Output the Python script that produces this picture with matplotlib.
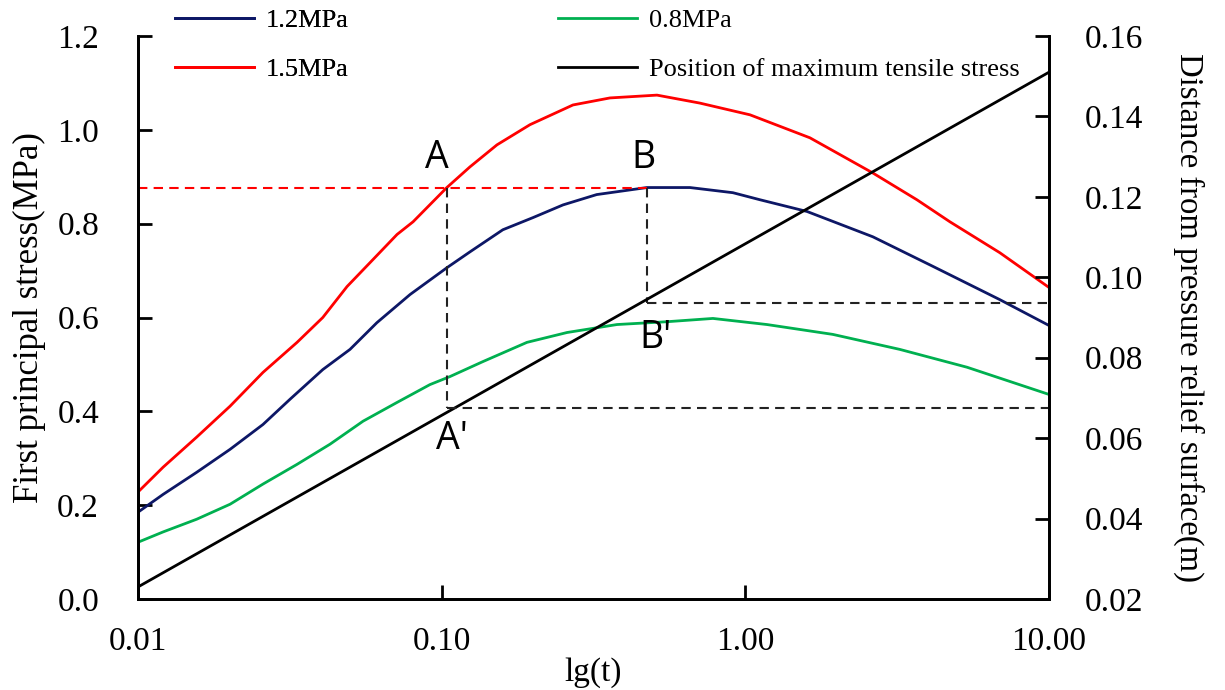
import matplotlib
matplotlib.use("Agg")
import matplotlib.pyplot as plt
from matplotlib.ticker import FixedLocator, FixedFormatter, NullLocator

# ---------------- data ----------------
t_15 = [0.0100, 0.0121, 0.0156, 0.0201, 0.0258, 0.0334, 0.0406, 0.0488, 0.0581, 0.0713,
        0.0805, 0.1040, 0.1239, 0.1521, 0.1954, 0.2706, 0.3583, 0.5117, 0.7082, 1.036,
        1.632, 2.630, 3.672, 4.717, 6.890, 10.0]
s_15 = [0.228, 0.281, 0.345, 0.411, 0.483, 0.547, 0.600, 0.666, 0.717, 0.777,
        0.804, 0.877, 0.921, 0.968, 1.011, 1.053, 1.068, 1.074, 1.057, 1.032,
        0.983, 0.908, 0.851, 0.804, 0.738, 0.664]

t_12 = [0.0100, 0.0121, 0.0156, 0.0201, 0.0258, 0.0317, 0.0406, 0.0499, 0.0612, 0.0787,
        0.1040, 0.1240, 0.1590, 0.2000, 0.2510, 0.3240, 0.4740, 0.6570, 0.9100, 1.117,
        1.596, 2.630, 4.147, 6.890, 10.0]
s_12 = [0.185, 0.223, 0.270, 0.319, 0.372, 0.426, 0.489, 0.532, 0.589, 0.649,
        0.706, 0.740, 0.787, 0.813, 0.840, 0.862, 0.877, 0.877, 0.866, 0.851,
        0.826, 0.772, 0.709, 0.638, 0.583]

t_08 = [0.0100, 0.0121, 0.0156, 0.0201, 0.0258, 0.0334, 0.0429, 0.0551, 0.0713, 0.0915,
        0.1064, 0.1367, 0.1909, 0.2587, 0.3778, 0.5517, 0.7821, 1.178, 1.941, 3.227,
        5.370, 10.0]
s_08 = [0.121, 0.143, 0.170, 0.202, 0.245, 0.287, 0.330, 0.379, 0.419, 0.457,
        0.474, 0.506, 0.547, 0.568, 0.585, 0.591, 0.598, 0.585, 0.564, 0.532,
        0.494, 0.436]

t_pos = [0.01, 10.0]
d_pos = [0.023, 0.151]

# annotation points
t_A, t_B = 0.104, 0.474
s_AB = 0.877                 # stress level of A and B
d_Ap, d_Bp = 0.0675, 0.0936  # distance of A' and B'

x_ticks = [0.01, 0.1, 1.0, 10.0]
x_ticklabels = ["0.01", "0.10", "1.00", "10.00"]
y_ticks = [0.0, 0.2, 0.4, 0.6, 0.8, 1.0, 1.2]
y2_ticks = [0.02, 0.04, 0.06, 0.08, 0.10, 0.12, 0.14, 0.16]

labels = ["1.2MPa", "1.5MPa", "0.8MPa", "Position of maximum tensile stress"]

# ---------------- style ----------------
serif = ["Liberation Serif", "DejaVu Serif"]
plt.rcParams["font.family"] = serif
c_navy = "#0d1766"
c_red = "#ff0000"
c_green = "#00b050"

fig = plt.figure(figsize=(12.25, 6.9), dpi=100)
ax = fig.add_axes([138/1225, 1-599/690, (1049-138)/1225, (599-36)/690])
ax2 = ax.twinx()

ax.set_xscale("log")
ax.set_xlim(0.01, 10)
ax.set_ylim(0, 1.2)
ax2.set_ylim(0.02, 0.16)

lw = 2.0
l12, = ax.plot(t_12, s_12, color=c_navy, lw=lw)
l15, = ax.plot(t_15, s_15, color=c_red, lw=lw)
l08, = ax.plot(t_08, s_08, color=c_green, lw=lw)
lpos, = ax2.plot(t_pos, d_pos, color="black", lw=lw)

def s_from_d(d):
    return (d - 0.02) / 0.14 * 1.2

dash = (0, (4.5, 3))
dlw = 1.5
ax.plot([0.01, t_B], [s_AB, s_AB], color=c_red, lw=dlw, linestyle=dash)
ax.plot([t_A, t_A], [s_AB, s_from_d(d_Ap)], color="#222222", lw=dlw, linestyle=dash)
ax.plot([t_B, t_B], [s_AB, s_from_d(d_Bp)], color="#222222", lw=dlw, linestyle=dash)
ax2.plot([t_A, 10], [d_Ap, d_Ap], color="#222222", lw=dlw, linestyle=dash)
ax2.plot([t_B, 10], [d_Bp, d_Bp], color="#222222", lw=dlw, linestyle=dash)

sans = ["Open Sans", "DejaVu Sans"]
afs = 27
ax.text(0.0965, 0.94, "A", ha="center", va="center", fontsize=afs, family=sans)
ax.text(0.463, 0.94, "B", ha="center", va="center", fontsize=afs, family=sans)
ax.text(0.108, 0.34, "A'", ha="center", va="center", fontsize=afs, family=sans)
ax2.text(0.505, 0.0848, "B'", ha="center", va="center", fontsize=afs, family=sans)

# axes formatting
for a in (ax, ax2):
    a.spines["top"].set_visible(False)
    for s in ("left", "right", "bottom"):
        a.spines[s].set_linewidth(2.0)

ax.xaxis.set_major_locator(FixedLocator(x_ticks))
ax.xaxis.set_major_formatter(FixedFormatter(x_ticklabels))
ax.xaxis.set_minor_locator(NullLocator())
ax.set_yticks(y_ticks)
ax.set_yticklabels([f"{v:.1f}" for v in y_ticks])
ax2.set_yticks(y2_ticks)
ax2.set_yticklabels([f"{v:.2f}" for v in y2_ticks])

ax.tick_params(axis="x", direction="in", length=10, width=2.0, labelsize=24, pad=20)
ax.tick_params(axis="y", direction="in", length=10, width=2.0, labelsize=24, pad=28)
ax2.tick_params(axis="y", direction="in", length=10, width=2.0, labelsize=24, pad=26)

ax.set_xlabel("lg(t)", fontsize=24, labelpad=0)
ax.set_ylabel("First principal stress(MPa)", fontsize=25, labelpad=8)
ax2.set_ylabel("Distance from pressure relief surface(m)", fontsize=23.5,
               rotation=270, labelpad=44)

leg_kw = dict(loc="upper left", frameon=False, fontsize=19, handlelength=3.0,
              handletextpad=0.45, labelspacing=0.95, borderpad=0, borderaxespad=0)
leg1 = fig.legend([l12, l15], labels[:2], bbox_to_anchor=(175/1225, 1-9/690), **leg_kw)
fig.legend([l08, lpos], labels[2:], bbox_to_anchor=(558/1225, 1-9/690), **leg_kw)
fig.add_artist(leg1)

fig.savefig("out.png", dpi=100)
